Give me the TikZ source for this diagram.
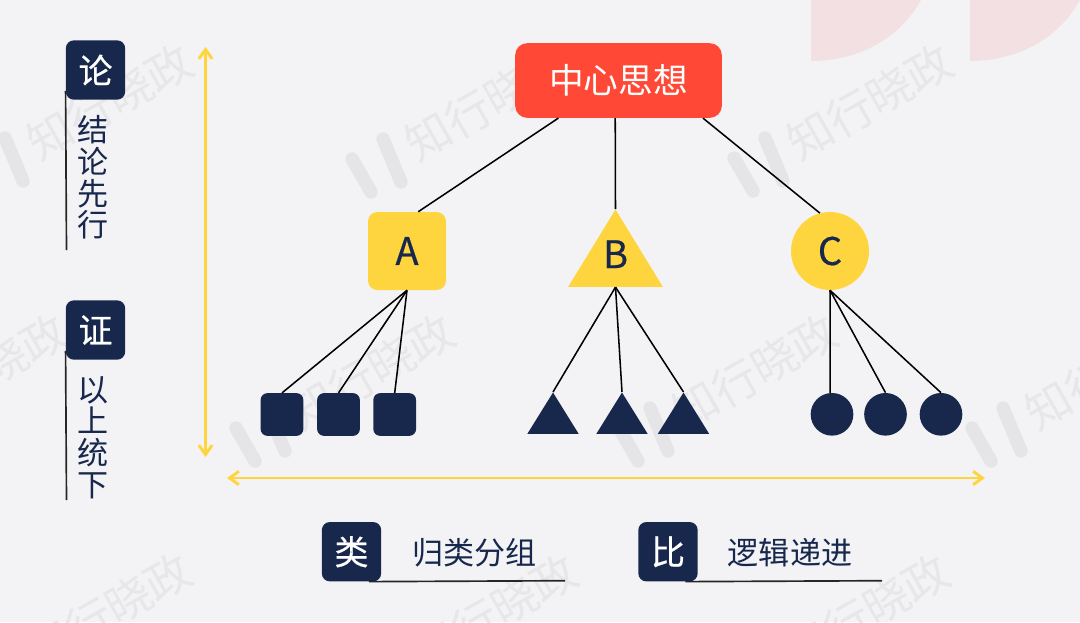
\documentclass[tikz,border=0pt]{standalone}
\usepackage{fontspec}
\setmainfont{Noto Sans CJK SC}
\usetikzlibrary{arrows.meta,shapes.geometric}

\definecolor{navy}{HTML}{17284C}
\definecolor{sun}{HTML}{FFD53F}
\definecolor{redbox}{HTML}{FF4936}
\definecolor{paper}{HTML}{F3F3F6}
\definecolor{blush}{HTML}{F3E0E2}
\definecolor{wmark}{HTML}{E5E5E7}
\definecolor{wtext}{HTML}{E7E7E9}

\tikzset{
  badge/.style={fill=navy,text=white,rounded corners=6pt,minimum size=44.5pt,inner sep=0pt,font=\fontsize{25.5}{25.5}\selectfont\addfontfeature{FakeBold=0.5}},
  say/.style={text=navy,inner sep=0pt,font=\fontsize{23.3}{23.7}\selectfont},
  flag/.style={line width=1.25pt,draw=black!85},
  link/.style={line width=1.15pt,draw=black},
  spanline/.style={line width=2.2pt,draw=sun,<->},
  sq/.style={fill=navy,rounded corners=5pt,minimum size=32pt,inner sep=0pt},
  dotnode/.style={circle,fill=navy,minimum size=32pt,inner sep=0pt},
  tri/.style={isosceles triangle,isosceles triangle apex angle=64,isosceles triangle stretches,shape border rotate=90,inner sep=0pt,anchor=apex},
  bigletter/.style={text=navy,font=\fontsize{28.5}{28.5}\selectfont\addfontfeature{FakeBold=0.6}}
}

\begin{document}
\begin{tikzpicture}[x=0.75pt,y=-0.75pt,>={Straight Barb[length=7pt,width=10pt]}]

        \useasboundingbox (0,0) rectangle (1080,622);
        \clip (0,0) rectangle (1080,622);
        \fill[paper] (0,0) rectangle (1080,622);

        % corner shapes
        \foreach \cx in {811,970}
            \fill[blush] (\cx,0) -- (\cx,61) .. controls (\cx+48,61) and (\cx+89,38) .. (\cx+110,0) -- cycle;

        % watermark
        \foreach \wx/\wy in {110/102,488/103,870/102,-15/372,372/372,755/372,1108/372,109/611,495/612,867/612} {
            \node[rotate=29.5,text=wtext,font=\fontsize{34}{34}\selectfont] (wm\wx\wy) at (\wx,\wy) {知行晓政};
            \draw[wmark,line width=10pt,line cap=round] (\wx-136,\wy+56) -- (\wx-117,\wy+89);
            \draw[wmark,line width=10pt,line cap=round] (\wx-105,\wy+36) -- (\wx-87,\wy+79);
        }

        % left and bottom headings
        \node[badge] (Lun) at (95.5,70) {论};
        \node[badge] (Zheng) at (95.5,330) {证};
        \node[badge] (Lei) at (351.5,551.7) {类};
        \node[badge] (Bi) at (668,551.7) {比};

        \coordinate (LunEnd) at (66.5,250);
        \coordinate (ZhengEnd) at (66.5,500);
        \coordinate (LeiEnd) at (565,580.7);
        \coordinate (BiEnd) at (882,580.7);

        \draw[flag] (Lun.215) -- (LunEnd);
        \draw[flag] (Zheng.215) -- (ZhengEnd);
        \draw[flag] (Lei.-60) -- (LeiEnd);
        \draw[flag] (Bi.-60) -- (BiEnd);

        \node[say,align=center] (LunText) at (93,177.5) {结\\论\\先\\行};
        \node[say,align=center] (ZhengText) at (93.5,437.5) {以\\上\\统\\下};
        \node[say] (LeiText) at (474.5,553) {归类分组};
        \node[say] (BiText) at (790,553) {逻辑递进};

        % yellow arrows
        \coordinate (UpTop) at (205.5,47);
        \coordinate (UpEnd) at (205.5,457);
        \coordinate (AcrossL) at (227,478);
        \coordinate (AcrossR) at (985,478);

        \draw[spanline] (UpEnd) -- (UpTop);
        \draw[spanline] (AcrossL) -- (AcrossR);

        % top of the tree
        \node[fill=redbox,text=white,rounded corners=9pt,minimum width=155pt,minimum height=56pt,inner sep=0pt,font=\fontsize{26}{26}\selectfont] (Top) at (618.5,80.5) {中心思想};

        \node[fill=sun,rounded corners=7pt,minimum size=58.5pt,inner sep=0pt,bigletter] (A) at (407,251) {A};
        \node[tri,fill=sun,minimum width=71pt,minimum height=58pt,text depth=10pt,bigletter] (B) at (615.5,209) {B};
        \node[circle,fill=sun,minimum size=58.5pt,inner sep=0pt,bigletter] (C) at (830,251) {C};

        \draw[link] (Top.212) -- (A.74);
        \draw[link] (Top.-95) -- (B.apex);
        \draw[link] (Top.-24) -- (C.105);

        % leaves
        \node[sq] (A1) at (282,414.5) {};
        \node[sq] (A2) at (338.5,414.5) {};
        \node[sq] (A3) at (394.7,414.5) {};

        \node[tri,fill=navy,minimum width=38.5pt,minimum height=31pt] (B1) at (553,392) {};
        \node[tri,fill=navy,minimum width=38.5pt,minimum height=31pt] (B2) at (622,392) {};
        \node[tri,fill=navy,minimum width=38.5pt,minimum height=31pt] (B3) at (683.5,392) {};

        \node[dotnode] (C1) at (832,414.3) {};
        \node[dotnode] (C2) at (885.5,414.3) {};
        \node[dotnode] (C3) at (941,414.3) {};

        \draw[link] (A.south) -- (A1.north);
        \draw[link] (A.south) -- (A2.north);
        \draw[link] (A.south) -- (A3.north);

        \draw[link] (B.lower side) -- (B1.apex);
        \draw[link] (B.lower side) -- (B2.apex);
        \draw[link] (B.lower side) -- (B3.apex);

        \draw[link] (C.south) -- (C1.95);
        \draw[link] (C.south) -- (C2.north);
        \draw[link] (C.south) -- (C3.north);

        \end{tikzpicture}
\end{document}
